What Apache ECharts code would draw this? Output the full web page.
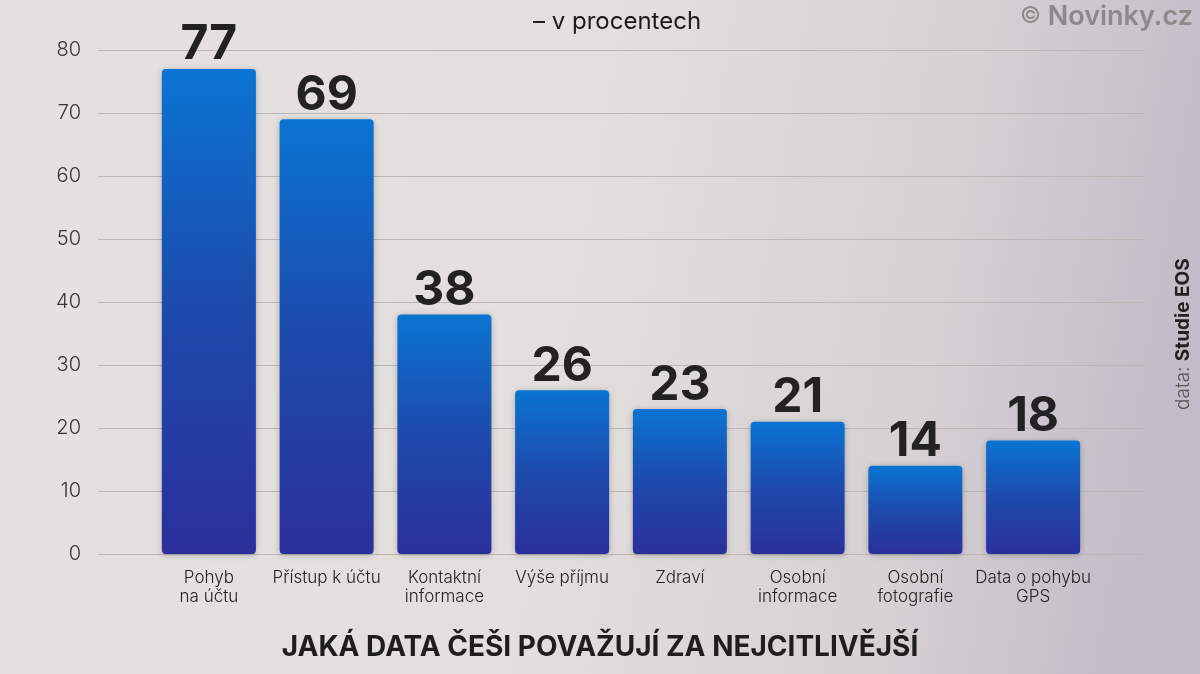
<!DOCTYPE html>
<html><head><meta charset="utf-8">
<script src="https://cdn.jsdelivr.net/npm/echarts@6/dist/echarts.min.js"></script>
<style>html,body{margin:0;padding:0;}#c{width:1200px;height:674px;}</style>
</head><body><div id="c"></div>
<script>
const categories = ['Pohyb\nna účtu', 'Přístup k účtu', 'Kontaktní\ninformace', 'Výše příjmu', 'Zdraví', 'Osobní\ninformace', 'Osobní\nfotografie', 'Data o pohybu\nGPS'];
const values = [77, 69, 38, 26, 23, 21, 14, 18];
const yTicks = [0, 10, 20, 30, 40, 50, 60, 70, 80];
const subtitle = '– v procentech';
const title = 'JAKÁ DATA ČEŠI POVAŽUJÍ ZA NEJCITLIVĚJŠÍ';

const chart = echarts.init(document.getElementById('c'));
const F = 'Inter, "Liberation Sans", Arial, sans-serif';
chart.setOption({
  backgroundColor: {
    type: 'linear', x: 0, y: 0, x2: 1, y2: 0.3,
    colorStops: [
      {offset: 0, color: '#e4e1e1'},
      {offset: 0.5, color: '#e2dfdc'},
      {offset: 0.8, color: '#d6d1d3'},
      {offset: 1, color: '#c2bcc8'}
    ]
  },
  animation: false,
  grid: [
    {left: 98, right: 56, top: 50, bottom: 120},
    {left: 150, right: 108, top: 50, bottom: 120}
  ],
  xAxis: [
    {gridIndex: 0, type: 'value', show: false, min: 0, max: 1},
    {gridIndex: 1, type: 'category', data: categories,
     axisLine: {show: false}, axisTick: {show: false},
     axisLabel: {margin: 14, fontFamily: F, fontSize: 17, fontWeight: 300, lineHeight: 19, color: '#222', interval: 0}}
  ],
  yAxis: [
    {gridIndex: 0, type: 'value', min: yTicks[0], max: yTicks[yTicks.length-1], interval: 10,
     axisLine: {show: false}, axisTick: {show: false},
     axisLabel: {margin: 17, fontFamily: F, fontSize: 20, fontWeight: 300, color: '#333'},
     splitLine: {lineStyle: {color: '#bcb7b4', width: 1}}},
    {gridIndex: 1, type: 'value', min: yTicks[0], max: yTicks[yTicks.length-1], interval: 10, show: false, splitLine: {show: false}}
  ],
  series: [{
    type: 'bar', xAxisIndex: 1, yAxisIndex: 1, data: values, barWidth: 94,
    itemStyle: {
      borderRadius: 4,
      color: {type: 'linear', x: 0, y: 0, x2: 0, y2: 1, colorStops: [
        {offset: 0, color: '#0a74d2'},
        {offset: 0.5, color: '#1d4aac'},
        {offset: 1, color: '#2b2f9c'}
      ]},
      shadowColor: 'rgba(0,0,0,0.25)', shadowBlur: 6, shadowOffsetY: 1
    },
    label: {show: true, position: 'top', distance: 0, fontFamily: F, fontWeight: 'bold', fontSize: 48, letterSpacing: -1, color: '#222'}
  }],
  graphic: [
    {type: 'text', left: 533, top: 10, style: {text: subtitle, fontFamily: F, fontSize: 24, fill: '#1a1a1a'}},
    {type: 'text', left: 'center', top: 634, style: {text: title, fontFamily: F, fontSize: 28, fontWeight: 'bold', letterSpacing: -0.3, fill: '#1e1e1e'}},
    {type: 'text', right: 7, top: 3, style: {text: '{a|©}{b| Novinky.cz}', rich: {
      a: {fontFamily: F, fontSize: 23, fill: '#8a8a8a'},
      b: {fontFamily: F, fontSize: 27, fontWeight: 600, letterSpacing: -0.5, fill: '#8a8a8a'}
    }}},
    {type: 'text', x: 1174, y: 410, rotation: Math.PI/2,
     style: {text: '{a|data: }{b|Studie EOS}', rich: {
       a: {fontFamily: F, fontSize: 19, fill: '#555', fontWeight: 300},
       b: {fontFamily: F, fontSize: 19, fill: '#222', fontWeight: 'bold'}
     }}}
  ]
});
</script>
</body></html>
